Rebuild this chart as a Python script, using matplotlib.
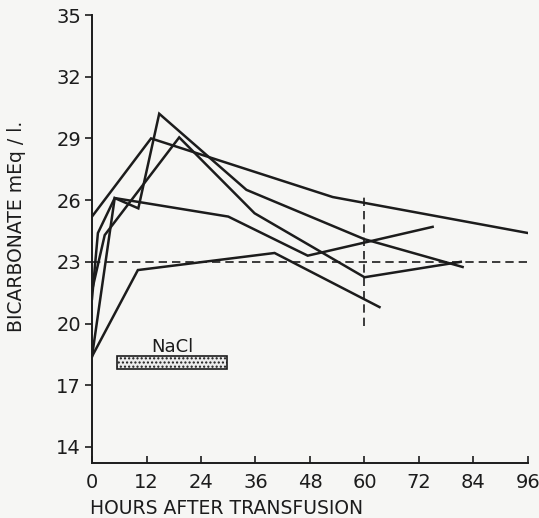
import matplotlib
matplotlib.use("Agg")
import matplotlib.pyplot as plt
from matplotlib.patches import Rectangle

# 各病例的时间点（小时）和碳酸氢盐数值
hours_a = [0, 13, 53, 96]
vals_a = [25.2, 29.0, 26.15, 24.4]

hours_b = [0, 5, 10.2, 14.8, 34, 60, 81.6]
vals_b = [18.4, 26.1, 25.6, 30.2, 26.5, 24.1, 22.75]

hours_c = [0, 2.8, 19.2, 35.8, 60, 81.2]
vals_c = [21.6, 24.3, 29.05, 25.36, 22.25, 23.0]

hours_d = [0, 1.3, 5, 30, 47.5, 75]
vals_d = [21.2, 24.4, 26.1, 25.2, 23.3, 24.7]

hours_e = [0, 10.1, 40.2, 63.3]
vals_e = [18.4, 22.6, 23.43, 20.8]

series = [(hours_a, vals_a), (hours_b, vals_b), (hours_c, vals_c),
          (hours_d, vals_d), (hours_e, vals_e)]

x_ticks = [0, 12, 24, 36, 48, 60, 72, 84, 96]
x_labels = ['0', '12', '24', '36', '48', '60', '72', '84', '96']
y_ticks = [14, 17, 20, 23, 26, 29, 32, 35]

normal_level = 23
marker_hour = 60
marker_range = [19.9, 26.25]
nacl_hours = [5.5, 29.7]
nacl_vals = [17.8, 18.4]

plt.rcParams['font.family'] = ['DejaVu Sans']
ink = '#1c1c1c'
bg = '#f6f6f4'

fig = plt.figure(figsize=(5.39, 5.18), dpi=100, facecolor=bg)
ax = fig.add_axes([92 / 539, 1 - 463 / 518, 436 / 539, 448 / 518])
ax.set_facecolor(bg)

for h, v in series:
    ax.plot(h, v, color=ink, lw=1.8, solid_joinstyle='miter')

# 参考虚线
ax.plot([0, 96], [normal_level, normal_level], color=ink, lw=1.2,
        ls=(0, (5, 3)))
ax.plot([marker_hour, marker_hour], marker_range, color=ink, lw=1.2,
        ls=(0, (5, 3)))

# NaCl 输注时段
ax.add_patch(Rectangle((nacl_hours[0], nacl_vals[0]),
                       nacl_hours[1] - nacl_hours[0],
                       nacl_vals[1] - nacl_vals[0],
                       facecolor='#ececec', edgecolor=ink, lw=1.2,
                       hatch='....'))
ax.text(sum(nacl_hours) / 2, 18.85, 'NaCl', ha='center', va='center',
        fontsize=13, color=ink)

ax.set_xlim(0, 96)
ax.set_ylim(13.22, 35)
ax.set_xticks(x_ticks)
ax.set_xticklabels(x_labels)
ax.set_yticks(y_ticks)
ax.tick_params(axis='x', direction='in', length=5, width=1.2, pad=7,
               labelsize=14, colors=ink)
ax.tick_params(axis='y', direction='out', length=5, width=1.2, pad=3,
               labelsize=14, colors=ink)
for s in ['top', 'right']:
    ax.spines[s].set_visible(False)
for s in ['left', 'bottom']:
    ax.spines[s].set_linewidth(1.4)
    ax.spines[s].set_color(ink)

fig.text(90 / 539, 1 - 508 / 518, 'HOURS AFTER TRANSFUSION', ha='left',
         va='center', fontsize=13.5, color=ink)
fig.text(17 / 539, 1 - 226 / 518, 'BICARBONATE mEq / l.', rotation=90,
         ha='center', va='center', fontsize=13.5, color=ink)

fig.savefig('out.png', dpi=100, facecolor=bg)
